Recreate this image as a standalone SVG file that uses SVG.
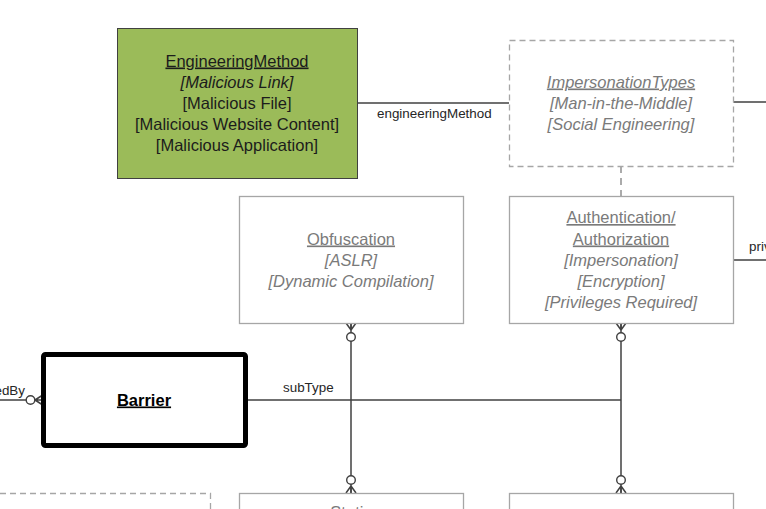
<svg xmlns="http://www.w3.org/2000/svg" width="766" height="509" viewBox="0 0 766 509">
<defs>
<style>
.box{fill:#ffffff;stroke:#a6a6a6;stroke-width:1.3}
.dash{fill:#ffffff;stroke:#a6a6a6;stroke-width:1.3;stroke-dasharray:6 4}
.t{font-family:"Liberation Sans",Arial,sans-serif;font-size:16.5px;text-anchor:middle}
.g{fill:#7a7a7a}
.k{fill:#1c1c1c}
.i{font-style:italic}
.u{text-decoration:underline}
.c{fill:none;stroke:#404040;stroke-width:1.5}
.lbl{font-family:"Liberation Sans",Arial,sans-serif;font-size:13.4px;fill:#262626}
.o{fill:#ffffff;stroke:#404040;stroke-width:1.4}
</style>
</defs>
<rect width="766" height="509" fill="#ffffff"/>

<g id="connectors">
<line class="c" x1="357" y1="103" x2="509" y2="103"/>
<line class="c" x1="733" y1="102" x2="766" y2="102"/>
<line class="c" x1="733" y1="260" x2="766" y2="260"/>
<line x1="621" y1="166" x2="621" y2="196" stroke="#7f7f7f" stroke-width="1.3" stroke-dasharray="7 5"/>
<line class="c" x1="246" y1="400" x2="621" y2="400"/>
<line class="c" x1="0" y1="400" x2="26" y2="400"/>
<path class="c" d="M35 400 L42 395.5 M35 400 L42 400 M35 400 L42 404.5"/>
<circle class="o" cx="30.5" cy="400" r="4.3"/>
<line class="c" x1="351" y1="323" x2="351" y2="493"/>
<path class="c" d="M351 330 L346 323 M351 330 L351 323 M351 330 L356 323"/>
<circle class="o" cx="351" cy="337" r="4.3"/>
<path class="c" d="M351 486 L346 493 M351 486 L351 493 M351 486 L356 493"/>
<circle class="o" cx="351" cy="480" r="4.3"/>
<line class="c" x1="621" y1="323" x2="621" y2="493"/>
<path class="c" d="M621 330 L616 323 M621 330 L621 323 M621 330 L626 323"/>
<circle class="o" cx="621" cy="337" r="4.3"/>
<path class="c" d="M621 486 L616 493 M621 486 L621 493 M621 486 L626 493"/>
<circle class="o" cx="621" cy="480" r="4.3"/>
<text class="lbl" x="377" y="118">engineeringMethod</text>
<text class="lbl" x="283" y="392">subType</text>
<text class="lbl" x="25" y="395" text-anchor="end">edBy</text>
<text class="lbl" x="749" y="251">priv</text>
</g>

<g id="EngineeringMethod">
<rect x="117.5" y="28.5" width="240" height="150" fill="#9bbb59" stroke="#404040" stroke-width="1"/>
<text class="t k u" x="237" y="66.5">EngineeringMethod</text>
<text class="t k i" x="237" y="87.5">[Malicious Link]</text>
<text class="t k" x="237" y="108.5">[Malicious File]</text>
<text class="t k" x="237" y="129.5">[Malicious Website Content]</text>
<text class="t k" x="237" y="150.5">[Malicious Application]</text>
</g>

<g id="ImpersonationTypes">
<rect class="dash" x="509.5" y="40.5" width="224" height="126"/>
<text class="t g i u" x="621" y="87.5">ImpersonationTypes</text>
<text class="t g i" x="621" y="108.5">[Man-in-the-Middle]</text>
<text class="t g i" x="621" y="129.5">[Social Engineering]</text>
</g>

<g id="Obfuscation">
<rect class="box" x="239.5" y="196.5" width="224" height="127"/>
<text class="t g u" x="351" y="244.5">Obfuscation</text>
<text class="t g i" x="351" y="265.5">[ASLR]</text>
<text class="t g i" x="351" y="286.5">[Dynamic Compilation]</text>
</g>

<g id="AuthenticationAuthorization">
<rect class="box" x="509.5" y="196.5" width="224" height="127"/>
<text class="t g u" x="621" y="223">Authentication/</text>
<text class="t g u" x="621" y="244.5">Authorization</text>
<text class="t g i" x="621" y="265.5">[Impersonation]</text>
<text class="t g i" x="621" y="286.5">[Encryption]</text>
<text class="t g i" x="621" y="307.5">[Privileges Required]</text>
</g>

<g id="Barrier">
<rect x="43.5" y="354.5" width="202" height="91" rx="2" fill="#ffffff" stroke="#000000" stroke-width="5"/>
<text class="t u" x="144" y="405.5" font-weight="bold" fill="#000000">Barrier</text>
</g>

<g id="BottomLeft">
<path d="M0 493.5 H210.5 V509" fill="none" stroke="#a6a6a6" stroke-width="1.3" stroke-dasharray="6 4"/>
</g>

<g id="Static">
<rect class="box" x="239.5" y="493.5" width="224" height="40"/>
<text class="t g u" x="351" y="518">Static</text>
</g>

<g id="BottomRight">
<rect class="box" x="509.5" y="493.5" width="224" height="40"/>
</g>
</svg>
